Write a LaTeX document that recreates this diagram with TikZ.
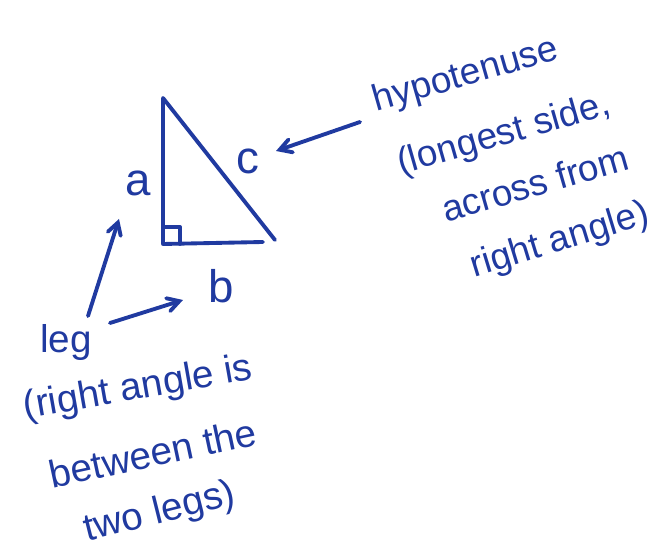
\documentclass[tikz,border=0pt]{standalone}
\usepackage{fontspec}
\setmainfont{Liberation Sans}
\usetikzlibrary{positioning}
\usetikzlibrary{arrows}
\usetikzlibrary{math}
\usetikzlibrary{calc}
\definecolor{ink}{RGB}{32,58,160}

\begin{document}
\begin{tikzpicture}[x=0.02cm,y=-0.02cm,
    pen/.style={ink, line width=2.2pt, line cap=round, line join=round},
    arrowpen/.style={pen, ->, >=angle 60},
    hand/.style={ink, inner sep=0pt, font=\fontsize{21}{23}\selectfont},
    bighand/.style={hand, font=\fontsize{22}{24}\selectfont},
    side/.style={ink, inner sep=1pt, font=\fontsize{26}{28}\selectfont}]
      \tikzmath{
        \sq = 17;
      }
      \useasboundingbox (0,0) rectangle (670,550);

      % triangle
      \coordinate (A) at (163,98);
      \coordinate (B) at (163,244);
      \coordinate (C) at (263,242);
      \coordinate (H) at (275,240);

      \draw[pen] (A) -- (B) -- (C);
      \draw[pen] (A) -- (H);
      \draw[pen] ($(B)+(0,-\sq)$) -| ($(B)+(\sq,0)$);

      \node[side] (a) at (138,183) {a};
      \node[side] (c) at (248,161) {c};
      \node[side] (b) at (221,286) {b};

      % hypotenuse note
      \node[hand, rotate=16] (hyp) at (466,76) {hypotenuse};
      \node[hand, rotate=16] (longest) at (504,135) {(longest side,};
      \node[hand, rotate=16] (across) at (535,183) {across from};
      \node[hand, rotate=17] (rightang) at (560,241) {right angle)};

      % leg note
      \node[bighand] (leg) at (66,343) {leg};
      \node[bighand, rotate=10] (paren) at (138,389) {(right angle is};
      \node[bighand, rotate=12] (between) at (153,453) {between the};
      \node[bighand, rotate=14] (two) at (160,513) {two legs)};

      \coordinate (hypStart) at (360,122);
      \coordinate (cTip) at (276,151);
      \coordinate (legStart) at (88,316);
      \coordinate (aTip) at (119,219);
      \coordinate (legMid) at (110,323);
      \coordinate (bTip) at (183,300);

      \draw[arrowpen] (hypStart) -- (cTip);
      \draw[arrowpen] (legStart) -- (aTip);
      \draw[arrowpen] (legMid) -- (bTip);
\end{tikzpicture}
\end{document}
